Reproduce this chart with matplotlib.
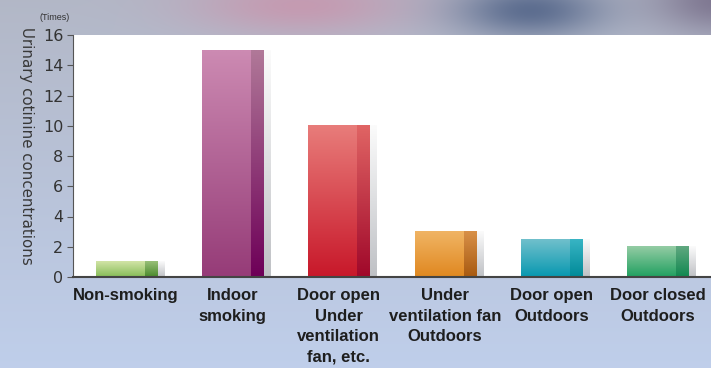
import numpy as np
import matplotlib.pyplot as plt
from matplotlib import font_manager

categories = ['Non-smoking', 'Indoor\nsmoking', 'Door open\nUnder\nventilation\nfan, etc.',
              'Under\nventilation fan\nOutdoors', 'Door open\nOutdoors', 'Door closed\nOutdoors']
values = [1.0, 15.0, 10.0, 3.0, 2.5, 2.0]
yticks = [0, 2, 4, 6, 8, 10, 12, 14, 16]

# (main top, main bottom, side top, side bottom)
colors = [('#d2e4a6', '#86bc58', '#98bf78', '#4a8a2c'),
          ('#cc8ab2', '#963c78', '#b07898', '#6e0058'),
          ('#e87c7a', '#c8182a', '#e06464', '#a0082a'),
          ('#f0b464', '#e08820', '#d89048', '#a85a10'),
          ('#70c0cc', '#0898b0', '#38b4c4', '#008a98'),
          ('#94cca4', '#20a060', '#60a880', '#108850')]

names = {f.name for f in font_manager.fontManager.ttflist}
if 'Liberation Sans Narrow' in names:
    lab_font, lab_size, lab_ls = 'Liberation Sans Narrow', 14.3, 1.0
else:
    lab_font, lab_size, lab_ls = 'Liberation Sans', 12, 1.45


def grad(top, bot, n=64):
    a = np.array(plt.matplotlib.colors.to_rgb(top))
    b = np.array(plt.matplotlib.colors.to_rgb(bot))
    t = np.linspace(0, 1, n)[:, None]
    return (a + (b - a) * t)[:, None, :]


W, H = 711, 368
fig = plt.figure(figsize=(W / 100, H / 100), dpi=100)

# background
bg = fig.add_axes([0, 0, 1, 1])
yy, xx = np.mgrid[0:H, 0:W]
t = (yy / H)[..., None]
img = np.array([0.70, 0.72, 0.78]) * (1 - t) + np.array([0.75, 0.81, 0.92]) * t
for cx, cy, sx, sy, col, w in [(300, 5, 110, 30, (0.80, 0.56, 0.66), 0.7),
                               (530, 10, 75, 28, (0.33, 0.40, 0.54), 0.9),
                               (720, 0, 70, 35, (0.45, 0.41, 0.52), 0.8)]:
    g = w * np.exp(-((xx - cx) / sx) ** 2 - ((yy - cy) / sy) ** 2)[..., None]
    img = img * (1 - g) + np.array(col) * g
bg.imshow(img, aspect='auto', extent=[0, 1, 0, 1], origin='upper')
bg.axis('off')

ax = fig.add_axes([73 / W, 91 / H, 638 / W, 242 / H])
ax.set_facecolor('white')

x = np.arange(len(values))
bw, side, shw = 0.574, 0.113, 0.075
bars = ax.bar(x, values, width=bw, color='none', edgecolor='none')
for b, c in zip(bars, colors):
    x0, w, h = b.get_x(), b.get_width(), b.get_height()
    ax.imshow(grad(c[0], c[1]), extent=[x0, x0 + w - side, 0, h], aspect='auto',
              interpolation='bilinear', zorder=2)
    ax.imshow(grad(c[2], c[3]), extent=[x0 + w - side, x0 + w, 0, h], aspect='auto',
              interpolation='bilinear', zorder=2)
    ax.imshow(grad('#fbfbfb', '#bfc1c5'), extent=[x0 + w, x0 + w + shw, 0, h], aspect='auto',
              interpolation='bilinear', zorder=1)

ax.set_xlim(-0.5, 5.5)
ax.set_ylim(0, 16)
ax.set_yticks(yticks)
ax.set_yticklabels([str(v) for v in yticks], fontsize=11.5, color='#333333')
ax.set_xticks(x)
ax.set_xticklabels(categories, fontsize=lab_size, fontweight='bold', family=lab_font,
                   color='#1e1e1e', linespacing=lab_ls, va='top')
ax.tick_params(axis='x', length=0, pad=8)
ax.tick_params(axis='y', length=4, color='#555555', pad=3)
for s in ['top', 'right']:
    ax.spines[s].set_visible(False)
ax.spines['left'].set_color('#555555')
ax.spines['bottom'].set_color('#444444')
ax.spines['bottom'].set_linewidth(1.5)

fig.text(26 / W, 1 - 146 / H, 'Urinary cotinine concentrations', rotation=270,
         ha='center', va='center', fontsize=10.8, color='#383838')
fig.text(55 / W, 1 - 18 / H, '(Times)', ha='center', va='center', fontsize=6.5,
         color='#333333', family=lab_font)

fig.savefig('out.png', dpi=100)
